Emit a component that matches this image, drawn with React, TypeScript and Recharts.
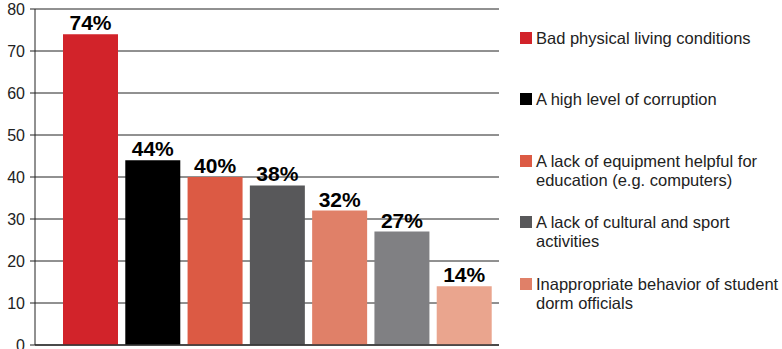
import { BarChart, Bar, XAxis, YAxis, CartesianGrid, Cell, LabelList } from "recharts";

const categories = [
  "Bad physical living conditions",
  "A high level of corruption",
  "A lack of equipment helpful for education (e.g. computers)",
  "A lack of cultural and sport activities",
  "Inappropriate behavior of student dorm officials",
  "Other 1",
  "Other 2",
];
const values = [74, 44, 40, 38, 32, 27, 14];
const colors = ["#d2232a", "#000000", "#dc5a44", "#58585a", "#e08068", "#808083", "#eaa58e"];
const legendCount = 5;
const yTicks = [0, 10, 20, 30, 40, 50, 60, 70, 80];

const data = categories.map((name, i) => ({ name, value: values[i] }));

const font = "'Liberation Sans', Arial, Helvetica, sans-serif";

// legend sits outside the chart so it doesn't eat into the plot area
function LegendBox() {
  return (
    <div
      style={{
        position: "absolute",
        left: 520,
        top: 28.5,
        width: 262,
        fontFamily: font,
        fontSize: 16.5,
        color: "#222",
        lineHeight: "19px",
      }}
    >
      {categories.slice(0, legendCount).map((label, i) => (
        <div key={label} style={{ height: 61.5, display: "flex", alignItems: "flex-start" }}>
          <span
            style={{
              width: 12,
              height: 12,
              background: colors[i],
              marginTop: 3,
              marginRight: 4,
              flex: "none",
            }}
          />
          <span style={{ width: 250 }}>{label}</span>
        </div>
      ))}
    </div>
  );
}

export default function App() {
  return (
    <div style={{ position: "absolute", left: 0, top: 0, width: 782, height: 349, background: "#fff" }}>
      <BarChart
        width={782}
        height={349}
        data={data}
        margin={{ top: 9, right: 283, bottom: 0, left: 0 }}
        barSize={55}
      >
        <CartesianGrid vertical={false} stroke="#222" />
        <XAxis
          dataKey="name"
          tick={false}
          tickLine={false}
          height={4}
          padding={{ left: 24, right: 4 }}
          axisLine={{ stroke: "#333", strokeWidth: 1.5 }}
        />
        <YAxis
          domain={[0, 80]}
          ticks={yTicks}
          width={35}
          tickSize={5}
          tickMargin={5}
          interval={0}
          axisLine={{ stroke: "#222" }}
          tickLine={{ stroke: "#222" }}
          tick={{ fill: "#222", fontSize: 16, fontFamily: font }}
        />
        <Bar dataKey="value" isAnimationActive={false}>
          {data.map((d, i) => (
            <Cell key={d.name} fill={colors[i]} />
          ))}
          <LabelList
            dataKey="value"
            position="top"
            offset={4}
            formatter={(v: any) => `${v}%`}
            style={{ fontFamily: font, fontSize: 21, fontWeight: "bold", fill: "#000" }}
          />
        </Bar>
      </BarChart>
      <LegendBox />
    </div>
  );
}
